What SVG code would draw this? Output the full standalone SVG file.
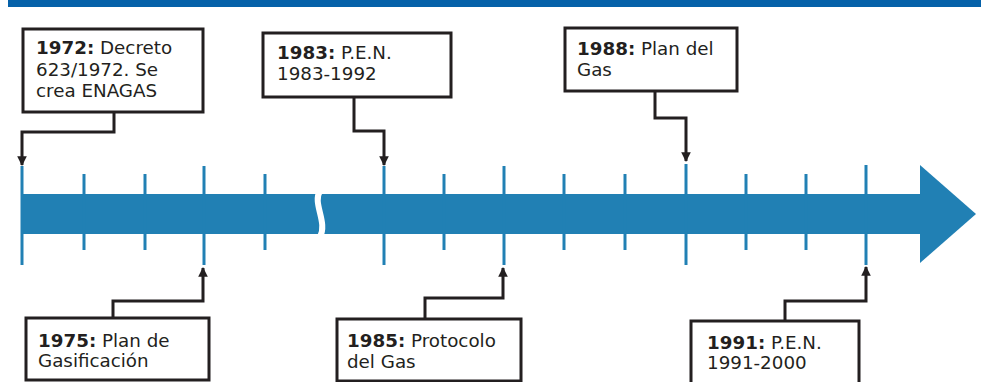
<svg xmlns="http://www.w3.org/2000/svg" width="981" height="382" viewBox="0 0 981 382">
<style>
.box{fill:#fff;stroke:#231f20;stroke-width:3}
.t{font-family:"DejaVu Sans",Verdana,sans-serif;font-size:18.3px;fill:#231f20}
.b{font-weight:bold}
.tick{stroke:#2180b4;stroke-width:3}
.con{fill:none;stroke:#231f20;stroke-width:3;marker-end:url(#ah)}
</style>
<defs>
<marker id="ah" viewBox="0 0 10 10" refX="9" refY="5" markerWidth="3.6" markerHeight="3.2" orient="auto" markerUnits="strokeWidth">
<path d="M0,0 L10,5 L0,10 Z" fill="#231f20"/>
</marker>
</defs>
<rect x="8" y="0" width="973" height="7" fill="#0561a9"/>
<g id="timeline">
<rect x="22" y="194" width="900" height="40" fill="#2180b4"/>
<polygon points="920,165 976,214 920,263" fill="#2180b4"/>
<path d="M320,191 C312,203 328,222 320,237" fill="none" stroke="#fff" stroke-width="6"/>
<g class="tick">
<line x1="22" y1="166" x2="22" y2="265"/>
<line x1="84" y1="174" x2="84" y2="250"/>
<line x1="145" y1="174" x2="145" y2="250"/>
<line x1="204" y1="166" x2="204" y2="265"/>
<line x1="265" y1="174" x2="265" y2="250"/>
<line x1="384" y1="166" x2="384" y2="265"/>
<line x1="444" y1="174" x2="444" y2="250"/>
<line x1="504" y1="166" x2="504" y2="265"/>
<line x1="564" y1="174" x2="564" y2="250"/>
<line x1="625" y1="174" x2="625" y2="250"/>
<line x1="686" y1="164" x2="686" y2="265"/>
<line x1="746" y1="174" x2="746" y2="250"/>
<line x1="806" y1="174" x2="806" y2="250"/>
<line x1="866" y1="165" x2="866" y2="265"/>
</g>
</g>
<g id="connectors">
<polyline class="con" points="114,113 114,132 22,132 22,165"/>
<polyline class="con" points="354,98 354,131 384,131 384,165"/>
<polyline class="con" points="655,92 655,118 686,118 686,161"/>
<polyline class="con" points="113,318 113,301 203,301 203,268"/>
<polyline class="con" points="425,319 425,298 503,298 503,268"/>
<polyline class="con" points="785,321 785,301 866,301 866,267"/>
</g>
<g id="n1972">
<rect class="box" x="23" y="29" width="180" height="83"/>
<text class="t" x="36" y="54"><tspan class="b">1972:</tspan> Decreto</text>
<text class="t" x="36" y="76">623/1972. Se</text>
<text class="t" x="36" y="97">crea ENAGAS</text>
</g>
<g id="n1983">
<rect class="box" x="263" y="33" width="188" height="64"/>
<text class="t" x="277" y="59"><tspan class="b">1983:</tspan> P.E.N.</text>
<text class="t" x="277" y="80">1983-1992</text>
</g>
<g id="n1988">
<rect class="box" x="565" y="28" width="172" height="63"/>
<text class="t" x="577" y="55"><tspan class="b">1988:</tspan> Plan del</text>
<text class="t" x="577" y="76">Gas</text>
</g>
<g id="n1975">
<rect class="box" x="26" y="318" width="183" height="62"/>
<text class="t" x="38" y="347"><tspan class="b">1975:</tspan> Plan de</text>
<text class="t" x="38" y="367">Gasificación</text>
</g>
<g id="n1985">
<rect class="box" x="337" y="319" width="184" height="62"/>
<text class="t" x="347" y="347"><tspan class="b">1985:</tspan> Protocolo</text>
<text class="t" x="347" y="368">del Gas</text>
</g>
<g id="n1991">
<rect class="box" x="691" y="321" width="168" height="70"/>
<text class="t" x="707" y="349"><tspan class="b">1991:</tspan> P.E.N.</text>
<text class="t" x="707" y="369">1991-2000</text>
</g>
</svg>
